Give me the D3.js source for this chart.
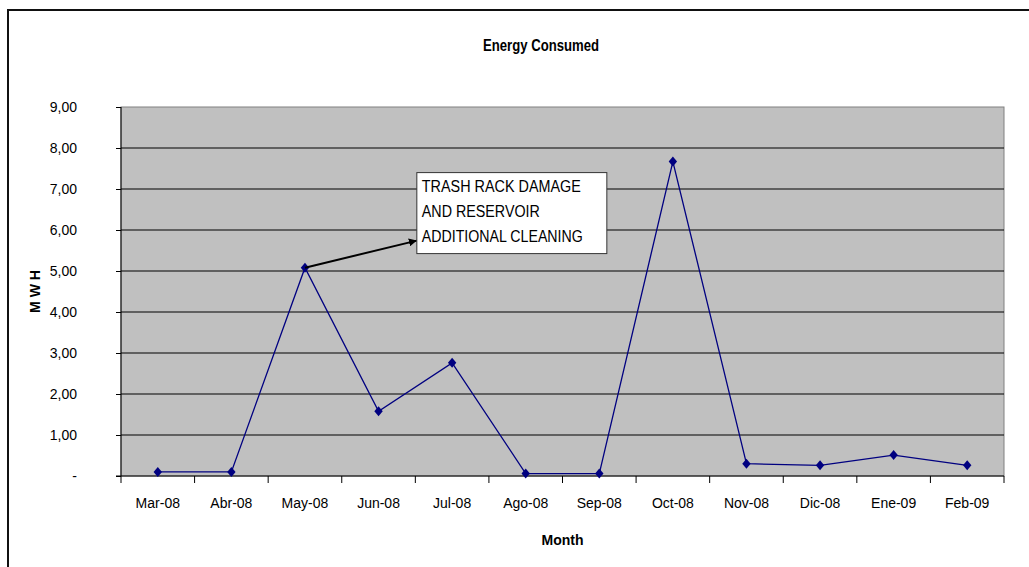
<!DOCTYPE html>
<html>
<head>
<meta charset="utf-8">
<script src="https://cdn.jsdelivr.net/npm/d3@7"></script>
<style>
	body { margin: 0; background: #fff; }
	text { font-family: "Liberation Sans", Arial, sans-serif; }
</style>
</head>
<body>
<script>
// months and energy values (MWH)
var months = ["Mar-08", "Abr-08", "May-08", "Jun-08", "Jul-08", "Ago-08",
              "Sep-08", "Oct-08", "Nov-08", "Dic-08", "Ene-09", "Feb-09"];
var energy = [0.10, 0.10, 5.08, 1.58, 2.76, 0.06, 0.06, 7.67, 0.30, 0.26, 0.51, 0.26];
var yTicks = [0, 1, 2, 3, 4, 5, 6, 7, 8, 9];
var noteLines = ["TRASH RACK DAMAGE", "AND RESERVOIR", "ADDITIONAL CLEANING"];
var noteMonth = "May-08";

var width = 1029, height = 567;
var plotLeft = 121, plotRight = 1004, plotTop = 107, plotBottom = 476;

var svg = d3.select("body").append("svg")
	.attr("width", width)
	.attr("height", height);

// outer frame
svg.append("path")
	.attr("d", "M8," + (height + 5) + " L8,10 L" + (width + 5) + ",10")
	.attr("fill", "none")
	.attr("stroke", "#111")
	.attr("stroke-width", 2);

var x = d3.scaleBand().domain(months).range([plotLeft, plotRight]);
var y = d3.scaleLinear().domain([0, 9]).range([plotBottom, plotTop]);

// plot area
svg.append("rect")
	.attr("x", plotLeft).attr("y", plotTop)
	.attr("width", plotRight - plotLeft).attr("height", plotBottom - plotTop)
	.attr("fill", "#c0c0c0")
	.attr("stroke", "#808080");

// gridlines
svg.selectAll(".grid")
	.data(yTicks.filter(function(d) { return d > 0 && d < 9; }))
	.enter().append("line")
	.attr("x1", plotLeft).attr("x2", plotRight)
	.attr("y1", function(d) { return y(d); })
	.attr("y2", function(d) { return y(d); })
	.attr("stroke", "#000")
	.attr("stroke-width", 1);

// y axis
var yAxis = svg.append("g")
	.attr("transform", "translate(" + plotLeft + ",0)")
	.call(d3.axisLeft(y).tickValues(yTicks).tickSize(5).tickPadding(39)
		.tickFormat(function(d) { return d == 0 ? "-" : d3.format(".2f")(d).replace(".", ","); }));
yAxis.select(".domain").attr("d", "M0," + plotBottom + "V" + plotTop).attr("stroke", "#000");
yAxis.selectAll("text").attr("font-size", 14).attr("fill", "#000")
	.attr("font-family", "Liberation Sans, Arial, sans-serif");

// x axis
var xAxis = svg.append("g")
	.attr("transform", "translate(0," + plotBottom + ")")
	.call(d3.axisBottom(x).tickSize(0).tickPadding(22));
xAxis.select(".domain").attr("d", "M" + (plotLeft - 5) + ",0H" + plotRight).attr("stroke", "#000");
xAxis.selectAll("text").attr("font-size", 14).attr("fill", "#000")
	.attr("font-family", "Liberation Sans, Arial, sans-serif");
// tick marks at category boundaries
svg.selectAll(".xtick")
	.data(months.concat(["end"]))
	.enter().append("line")
	.attr("x1", function(d, i) { return plotLeft + i * x.step(); })
	.attr("x2", function(d, i) { return plotLeft + i * x.step(); })
	.attr("y1", plotBottom).attr("y2", plotBottom + 7)
	.attr("stroke", "#000");

// line
var line = d3.line()
	.x(function(d, i) { return x(months[i]) + x.bandwidth() / 2; })
	.y(function(d) { return y(d); });

svg.append("path")
	.datum(energy)
	.attr("d", line)
	.attr("fill", "none")
	.attr("stroke", "#000080")
	.attr("stroke-width", 1.3);

// excel style diamond, a bit wider than d3's
var wideDiamond = {
	draw: function(ctx, size) {
		var w = 4.2, h = 5;
		ctx.moveTo(0, -h);
		ctx.lineTo(w, 0);
		ctx.lineTo(0, h);
		ctx.lineTo(-w, 0);
		ctx.closePath();
	}
};

svg.selectAll(".pt")
	.data(energy)
	.enter().append("path")
	.attr("class", "pt")
	.attr("d", d3.symbol().type(wideDiamond))
	.attr("transform", function(d, i) {
		return "translate(" + (x(months[i]) + x.bandwidth() / 2) + "," + y(d) + ")";
	})
	.attr("fill", "#000080");

// annotation
var boxX = x("Jul-08") + 1.5, boxY = y(7.4);
var boxW = 190, boxH = 81;
var px = x(noteMonth) + x.bandwidth() / 2;
var py = y(energy[months.indexOf(noteMonth)]);

svg.append("defs").append("marker")
	.attr("id", "arrow")
	.attr("viewBox", "0 0 10 10")
	.attr("refX", 10).attr("refY", 5)
	.attr("markerWidth", 4).attr("markerHeight", 4)
	.attr("orient", "auto")
	.append("path")
	.attr("d", "M0,0 L10,5 L0,10 z")
	.attr("fill", "#000");

svg.append("line")
	.attr("x1", px).attr("y1", py)
	.attr("x2", boxX).attr("y2", boxY + 68)
	.attr("stroke", "#000")
	.attr("stroke-width", 2)
	.attr("marker-end", "url(#arrow)");

svg.append("rect")
	.attr("x", boxX).attr("y", boxY)
	.attr("width", boxW).attr("height", boxH)
	.attr("fill", "#fff")
	.attr("stroke", "#333");

svg.selectAll(".note")
	.data(noteLines)
	.enter().append("text")
	.attr("x", boxX + 5)
	.attr("y", function(d, i) { return boxY + 19 + i * 25.3; })
	.attr("font-size", 16)
	.attr("textLength", function(d, i) { return [159, 118, 161][i]; })
	.attr("lengthAdjust", "spacingAndGlyphs")
	.text(function(d) { return d; });

// titles
svg.append("text")
	.attr("x", 541).attr("y", 51)
	.attr("text-anchor", "middle")
	.attr("font-size", 17).attr("font-weight", "bold")
	.attr("textLength", 116)
	.attr("lengthAdjust", "spacingAndGlyphs")
	.text("Energy Consumed");

svg.append("text")
	.attr("x", (plotLeft + plotRight) / 2).attr("y", 545)
	.attr("text-anchor", "middle")
	.attr("font-size", 14).attr("font-weight", "bold")
	.text("Month");

svg.append("text")
	.attr("transform", "translate(40," + ((plotTop + plotBottom) / 2) + ") rotate(-90)")
	.attr("text-anchor", "middle")
	.attr("font-size", 14).attr("font-weight", "bold")
	.text("M W H");
</script>
</body>
</html>
